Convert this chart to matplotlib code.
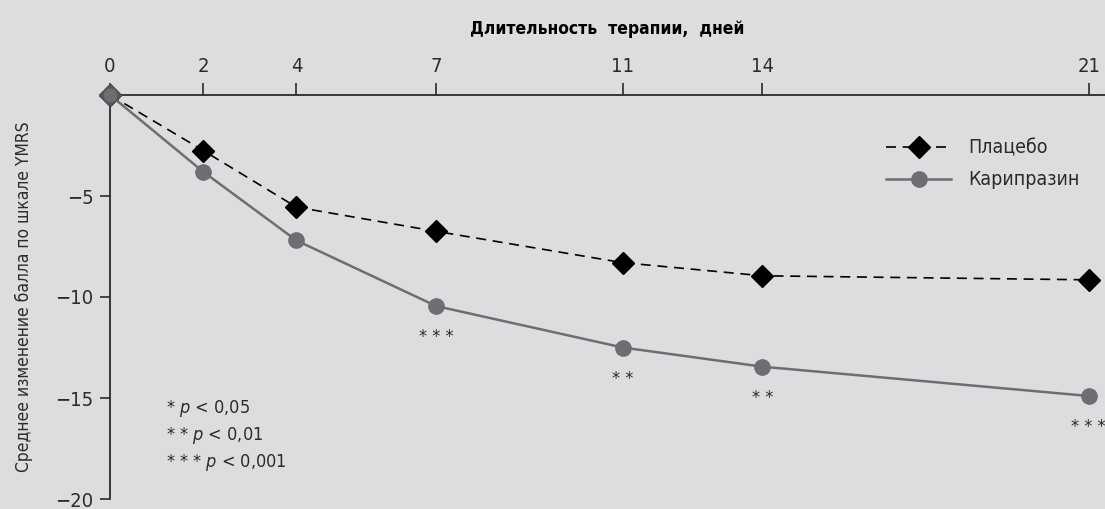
import numpy as np
import matplotlib.pyplot as plt
from matplotlib import font_manager

# узкий шрифт, если найдётся; иначе DejaVu Sans в сжатом начертании
names = {f.name for f in font_manager.fontManager.ttflist}
fam = ['Liberation Sans Narrow', 'DejaVu Sans'] if 'Liberation Sans Narrow' in names else ['DejaVu Sans']
plt.rcParams['font.family'] = fam
plt.rcParams['font.stretch'] = 'condensed'
plt.rcParams['mathtext.fontset'] = 'custom'
plt.rcParams['mathtext.it'] = 'DejaVu Sans:italic'

days = [0, 2, 4, 7, 11, 14, 21]
placebo = [0, -2.75, -5.55, -6.75, -8.3, -8.95, -9.15]
caripr = [0, -3.8, -7.2, -10.45, -12.5, -13.45, -14.9]
stars = ['', '', '', '* * *', '* *', '* *', '* * *']
yticks = [-5, -10, -15, -20]
footnote = ['* $p$ < 0,05', '* * $p$ < 0,01', '* * * $p$ < 0,001']

bg = '#dcdddf'
grey = '#6d6e71'
dark = '#2b2b2b'

fig = plt.figure(figsize=(11.05, 5.09), dpi=100)
fig.patch.set_facecolor(bg)
ax = fig.add_axes([110 / 1105, 1 - 499 / 509, 995 / 1105, (499 - 95) / 509])
ax.set_facecolor(bg)

ax.plot(days, placebo, color='black', ls=(0, (6, 4)), lw=1.2, marker='D',
        ms=11, mfc='black', mec='black', clip_on=False, zorder=3, label='Плацебо')
ax.plot(days, caripr, color=grey, lw=1.8, marker='o', ms=11,
        mfc=grey, mec=grey, clip_on=False, zorder=4, label='Карипразин')
ax.plot(days[0], placebo[0], marker='D', ms=11, color='#555555', clip_on=False, zorder=5)
ax.plot(days[0], caripr[0], marker='o', ms=9, color=grey, clip_on=False, zorder=6)

for d, v, s in zip(days, caripr, stars):
    if s:
        ax.annotate(s, (d, v), xytext=(0, -16), textcoords='offset points',
                    ha='center', va='top', fontsize=13, color=dark, annotation_clip=False)

ax.set_xlim(0, 21.35)
ax.set_ylim(-20, 0)
ax.xaxis.tick_top()
ax.set_xticks(days)
ax.set_yticks(yticks)
ax.set_yticklabels(['\u2212' + str(abs(t)) for t in yticks])
ax.tick_params(axis='both', direction='out', length=7, width=1.2, colors=dark,
               labelsize=14.5, pad=5)
ax.tick_params(axis='x', length=9, pad=5)
for side in ['bottom', 'right']:
    ax.spines[side].set_visible(False)
for side in ['top', 'left']:
    ax.spines[side].set_color(dark)
    ax.spines[side].set_linewidth(1.3)

ax.set_xlabel('Длительность  терапии,  дней', fontsize=12.5, fontweight='bold',
              color='black', labelpad=16)
ax.xaxis.set_label_position('top')
ax.set_ylabel('Среднее изменение балла по шкале YMRS', fontsize=12.5, color=dark,
              labelpad=16)

leg = ax.legend(loc='upper right', bbox_to_anchor=(0.992, 0.935), frameon=False,
                fontsize=14, handlelength=3.3, labelspacing=0.65, labelcolor=dark,
                handletextpad=0.9)

for i, s in enumerate(footnote):
    ax.text(0.056, 0.225 - i * 0.067, s, transform=ax.transAxes, fontsize=13,
            color=dark, va='center', ha='left')

fig.savefig('out.png', dpi=100, facecolor=bg)
